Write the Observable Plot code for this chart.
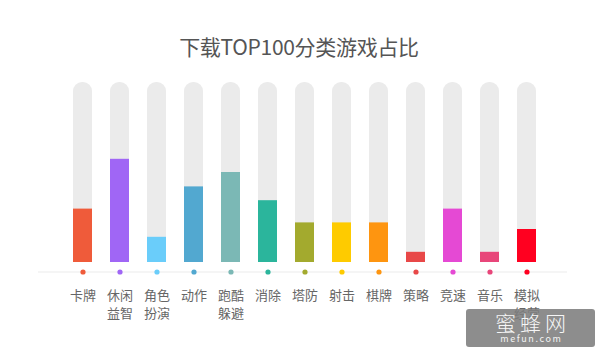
<!DOCTYPE html>
<html>
<head>
<meta charset="utf-8">
<script src="https://cdn.jsdelivr.net/npm/d3@7"></script>
<script src="https://cdn.jsdelivr.net/npm/@observablehq/plot@0.6"></script>
<style>
  html, body { margin: 0; padding: 0; background: #fff; }
  #wrap { position: relative; width: 600px; height: 353px; overflow: hidden; font-family: "Noto Sans CJK SC", "Noto Sans", sans-serif; }
  #title { position: absolute; left: 0; top: 33px; width: 598px; text-align: center; font-size: 21px; color: #555; line-height: 26px; letter-spacing: -0.3px; }
  #wm { position: absolute; left: 466px; top: 309px; width: 129px; height: 38px; background: rgba(125,125,125,0.88); border-radius: 3px; color: #fff; text-align: center; }
  #wm .a { font-size: 21px; line-height: 22px; letter-spacing: 4px; padding-left: 4px; padding-top: 2px; font-weight: 300; opacity: 0.92; }
  #wm .b { font-size: 9px; line-height: 11px; letter-spacing: 1.6px; padding-left: 1.6px; opacity: 0.9; }
</style>
</head>
<body>
<div id="wrap">
  <div id="chart"></div>
  <div id="title">下载TOP100分类游戏占比</div>
  <div id="wm"><div class="a">蜜蜂网</div><div class="b">mefun.com</div></div>
</div>
<script>
const categories = ["卡牌","休闲益智","角色扮演","动作","跑酷躲避","消除","塔防","射击","棋牌","策略","竞速","音乐","模拟经营"];
const tickLabels = ["卡牌","休闲\n益智","角色\n扮演","动作","跑酷\n躲避","消除","塔防","射击","棋牌","策略","竞速","音乐","模拟\n经营"];
const values = [8.9, 17.2, 4.2, 12.6, 15.0, 10.3, 6.6, 6.6, 6.6, 1.7, 8.9, 1.7, 5.5];
const maxValue = 30;
const colors = ["#ef5b3a","#a066f5","#6acdfa","#52a8d0","#7bb8b5","#2bb59c","#a3aa2e","#fecb00","#fe9510","#e84848","#e549d4","#e8467a","#ff0020"];

const data = categories.map((c, i) => ({cat: c, label: tickLabels[i], value: values[i], color: colors[i], max: maxValue}));

const chart = Plot.plot({
  width: 600,
  height: 353,
  marginLeft: 52,
  marginRight: 44,
  marginTop: 82,
  marginBottom: 91,
  x: {domain: categories, padding: 0.5, axis: null},
  y: {domain: [0, maxValue], axis: null},
  style: {fontFamily: "'Noto Sans CJK SC', 'Noto Sans', sans-serif", background: "transparent"},
  marks: [
    Plot.ruleY([0], {dy: 9.5, stroke: "#ececec", strokeWidth: 1.2, insetLeft: -14, insetRight: -11}),
    Plot.barY(data, {x: "cat", y: "max", fill: "#ebebeb", rx: 9}),
    Plot.barY(data, {x: "cat", y: "value", fill: "color"}),
    Plot.dot(data, {x: "cat", y: () => 0, dy: 9.5, r: 2.6, fill: "color", stroke: null}),
    Plot.text(data, {x: "cat", y: () => 0, text: "label", dy: 25, lineAnchor: "top", lineHeight: 1.35, fontSize: 13, fill: "#666"})
  ]
});
document.getElementById("chart").appendChild(chart);
</script>
</body>
</html>
